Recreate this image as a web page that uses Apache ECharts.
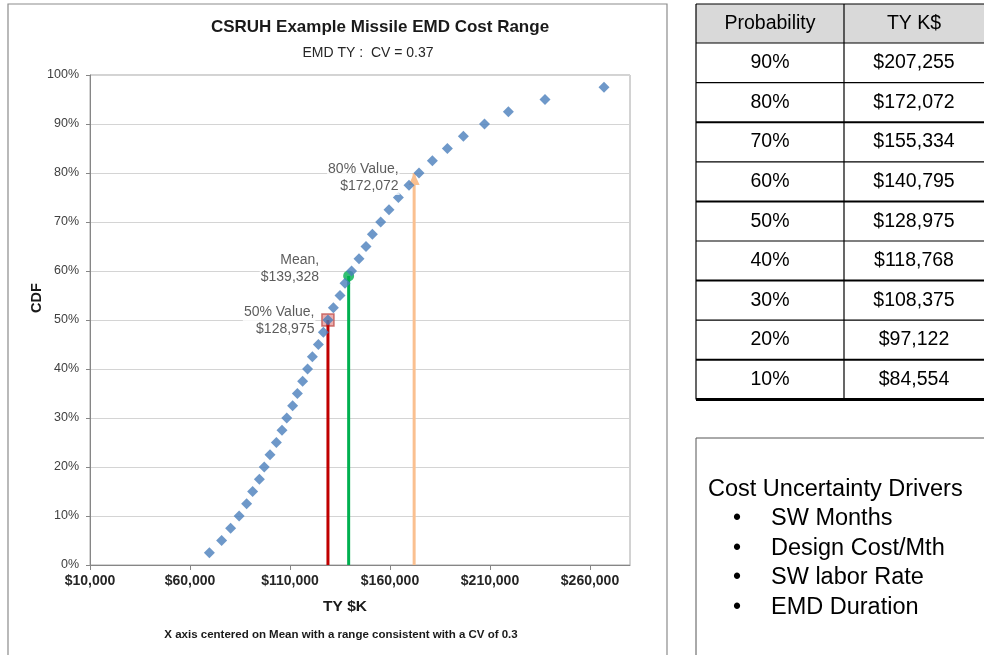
<!DOCTYPE html>
<html>
<head>
<meta charset="utf-8">
<script src="https://cdn.jsdelivr.net/npm/echarts@6/dist/echarts.min.js"></script>
<style>
html,body{margin:0;padding:0;background:#fff;}
#chart{width:984px;height:655px;}
</style>
</head>
<body>
<div id="chart"></div>
<script>
// ---- Data ----
const cdfProb = [0.025,0.05,0.075,0.10,0.125,0.15,0.175,0.20,0.225,0.25,0.275,0.30,0.325,0.35,0.375,0.40,0.425,0.45,0.475,0.50,
                 0.525,0.55,0.575,0.60,0.625,0.65,0.675,0.70,0.725,0.75,0.775,0.80,0.825,0.85,0.875,0.90,0.925,0.95,0.975];
const cdfCost = [69700,75800,80300,84554,88300,91300,94700,97122,100000,103200,106000,108375,111300,113700,116300,118768,121200,124200,126700,128975,
                 131700,135000,137500,140795,144500,148000,151200,155334,159500,164200,169500,174500,181200,188700,196700,207255,219200,237500,267000];

const value50 = 128975, prob50 = 0.50;
const meanValue = 139328, meanProb = 0.59;
const value80 = 172072, prob80 = 0.80;

const annotationText = ['50% Value,\n$128,975', 'Mean,\n$139,328', '80% Value,\n$172,072'];

const xTickMin = 10000, xTickMax = 280000, xTickStep = 50000;
const yTickMin = 0, yTickMax = 1, yTickStep = 0.1;

const tableHeader = ['Probability', 'TY K$'];
const tableProb = ['90%','80%','70%','60%','50%','40%','30%','20%','10%'];
const tableCost = ['$207,255','$172,072','$155,334','$140,795','$128,975','$118,768','$108,375','$97,122','$84,554'];

const driversTitle = 'Cost Uncertainty Drivers';
const drivers = ['SW Months','Design Cost/Mth','SW labor Rate','EMD Duration'];

const titleText = 'CSRUH Example Missile EMD Cost Range';
const subtitleText = 'EMD TY :  CV = 0.37';
const xName = 'TY $K';
const yName = 'CDF';
const footnote = 'X axis centered on Mean with a range consistent with a CV of 0.3';

// ---- Chart ----
const FONT = '"Liberation Sans", Arial, Helvetica, sans-serif';
const chart = echarts.init(document.getElementById('chart'), null, {renderer:'canvas'});

const graphics = [];
// outer chart panel border
graphics.push({type:'rect', shape:{x:8, y:4, width:659, height:670}, style:{fill:null, stroke:'#8c8c8c', lineWidth:1.2}, z:-10});
// titles
graphics.push({type:'text', x:380, y:27, style:{text:titleText, font:'bold 17px '+FONT, fill:'#1a1a1a', textAlign:'center', textVerticalAlign:'middle'}});
graphics.push({type:'text', x:368, y:53, style:{text:subtitleText, font:'14px '+FONT, fill:'#262626', textAlign:'center', textVerticalAlign:'middle'}});
graphics.push({type:'text', x:345, y:607, style:{text:xName, font:'bold 15.5px '+FONT, fill:'#1a1a1a', textAlign:'center', textVerticalAlign:'middle'}});
graphics.push({type:'text', x:341, y:635, style:{text:footnote, font:'bold 11.5px '+FONT, fill:'#1a1a1a', textAlign:'center', textVerticalAlign:'middle'}});
graphics.push({type:'text', x:37, y:298, rotation:Math.PI/2, style:{text:yName, font:'bold 14.5px '+FONT, fill:'#1a1a1a', textAlign:'center', textVerticalAlign:'middle'}});

// table
const tLeft = 696, tMid = 844, tRight = 990, tTop = 4, headH = 39, rowH = 39.6;
graphics.push({type:'rect', shape:{x:tLeft, y:tTop, width:tRight-tLeft, height:headH}, style:{fill:'#d9d9d9'}});
graphics.push({type:'text', x:(tLeft+tMid)/2, y:tTop+headH/2, style:{text:tableHeader[0], font:'19.5px '+FONT, fill:'#000', textAlign:'center', textVerticalAlign:'middle'}});
graphics.push({type:'text', x:(tMid+tRight-6)/2, y:tTop+headH/2, style:{text:tableHeader[1], font:'19.5px '+FONT, fill:'#000', textAlign:'center', textVerticalAlign:'middle'}});
const tBottom = tTop + headH + rowH*tableProb.length;
graphics.push({type:'line', shape:{x1:tLeft, y1:tTop, x2:tRight, y2:tTop}, style:{stroke:'#000', lineWidth:1.2}});
graphics.push({type:'line', shape:{x1:tLeft, y1:tTop+headH, x2:tRight, y2:tTop+headH}, style:{stroke:'#000', lineWidth:1.2}});
for (let i=0;i<tableProb.length;i++){
  const yTop = tTop + headH + rowH*i;
  const yc = yTop + rowH/2;
  graphics.push({type:'text', x:(tLeft+tMid)/2, y:yc, style:{text:tableProb[i], font:'19.5px '+FONT, fill:'#000', textAlign:'center', textVerticalAlign:'middle'}});
  graphics.push({type:'text', x:(tMid+tRight-6)/2, y:yc, style:{text:tableCost[i], font:'19.5px '+FONT, fill:'#000', textAlign:'center', textVerticalAlign:'middle'}});
  const yb = yTop + rowH;
  const last = i === tableProb.length-1;
  graphics.push({type:'line', shape:{x1:tLeft, y1:yb, x2:tRight, y2:yb}, style:{stroke:'#000', lineWidth: last ? 3 : (i%2===1 ? 2 : 1.2)}});
}
graphics.push({type:'line', shape:{x1:tLeft, y1:tTop, x2:tLeft, y2:tBottom}, style:{stroke:'#000', lineWidth:1.2}});
graphics.push({type:'line', shape:{x1:tMid, y1:tTop, x2:tMid, y2:tBottom}, style:{stroke:'#000', lineWidth:1.2}});

// drivers text box
graphics.push({type:'rect', shape:{x:696, y:438, width:300, height:240}, style:{fill:'#fff', stroke:'#555', lineWidth:1}});
graphics.push({type:'text', x:708, y:490, style:{text:driversTitle, font:'23.5px '+FONT, fill:'#000', textAlign:'left', textVerticalAlign:'middle'}});
for (let i=0;i<drivers.length;i++){
  const yc = 519 + 29.5*i;
  graphics.push({type:'text', x:737, y:yc, style:{text:'\u2022', font:'23px '+FONT, fill:'#000', textAlign:'center', textVerticalAlign:'middle'}});
  graphics.push({type:'text', x:771, y:yc, style:{text:drivers[i], font:'23.5px '+FONT, fill:'#000', textAlign:'left', textVerticalAlign:'middle'}});
}

const labelBase = {show:true, position:'left', color:'#333', fontSize:14, fontFamily:FONT, lineHeight:17, align:'right', backgroundColor:'#fff', padding:[0,1]};

const option = {
  animation:false,
  textStyle:{fontFamily:FONT},
  grid:{left:90, top:75, width:540, height:490, show:true, borderColor:'#a6a6a6', borderWidth:1, backgroundColor:'transparent'},
  xAxis:{
    type:'value', min:xTickMin, max:xTickMax, interval:xTickStep,
    axisLine:{show:true, onZero:false, lineStyle:{color:'#868686', width:1}},
    axisTick:{show:true, length:5, lineStyle:{color:'#868686'}},
    splitLine:{show:false},
    axisLabel:{showMaxLabel:false, fontWeight:'bold', fontSize:14, color:'#262626', margin:9,
      formatter:v => '$' + Math.round(v).toLocaleString('en-US')}
  },
  yAxis:{
    type:'value', min:yTickMin, max:yTickMax, interval:yTickStep,
    axisLine:{show:true, onZero:false, lineStyle:{color:'#868686', width:1}},
    axisTick:{show:true, length:4, lineStyle:{color:'#868686'}},
    splitLine:{show:true, lineStyle:{color:'#d4d4d4', width:1}},
    axisLabel:{fontSize:12.5, color:'#404040', margin:11, formatter:v => Math.round(v*100) + '%'}
  },
  series:[
    {type:'scatter', name:'50% marker', z:2, symbol:'rect', symbolSize:12,
      itemStyle:{color:'rgba(222,120,120,0.75)', borderColor:'#c0504d', borderWidth:1.5},
      data:[[value50, prob50]]},
    {type:'line', name:'50% line', z:3, symbol:'none', lineStyle:{color:'#c00000', width:3},
      data:[[value50, 0],[value50, prob50]]},
    {type:'line', name:'Mean line', z:3, symbol:'none', lineStyle:{color:'#00b050', width:3},
      data:[[meanValue, 0],[meanValue, meanProb]]},
    {type:'line', name:'80% line', z:3, showSymbol:true, lineStyle:{color:'#fac090', width:3},
      itemStyle:{color:'#fac090'},
      data:[{value:[value80, 0], symbol:'none'},
            {value:[value80, prob80], symbol:'triangle', symbolSize:[11,12], symbolOffset:[0,6]}]},
    {type:'scatter', name:'Mean marker', z:4, symbol:'circle', symbolSize:11,
      itemStyle:{color:'#00b050'}, data:[[meanValue, meanProb]]},
    {type:'scatter', name:'CDF', z:5, symbol:'diamond', symbolSize:[11,11],
      itemStyle:{color:'#4a7ebb'},
      data: cdfCost.map((c,i)=>[c, cdfProb[i]])},
    {type:'scatter', name:'Annotations', z:6, symbol:'circle', symbolSize:1,
      itemStyle:{color:'rgba(0,0,0,0)'},
      data:[
        {value:[value50, prob50], label:Object.assign({}, labelBase, {formatter:annotationText[0], distance:12, offset:[0,1]})},
        {value:[meanValue, meanProb], label:Object.assign({}, labelBase, {formatter:annotationText[1], distance:28, offset:[0,-7]})},
        {value:[value80, prob80], label:Object.assign({}, labelBase, {formatter:annotationText[2], distance:14, offset:[0,5]})}
      ]}
  ],
  graphic: graphics
};
chart.setOption(option);
</script>
</body>
</html>
